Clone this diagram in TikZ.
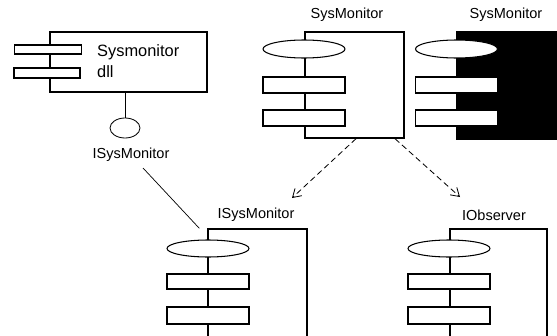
\documentclass[tikz,border=0pt]{standalone}
\usepackage{fontspec}
\setmainfont{Liberation Sans}
\usetikzlibrary{arrows.meta,shapes.geometric}

\tikzset{
  compbox/.style={draw, line width=1.2pt, fill=white, inner sep=0pt},
  bar/.style={draw, line width=0.9pt, fill=white, inner sep=0pt,
              minimum width=2.46cm, minimum height=0.48cm},
  port/.style={ellipse, draw, line width=0.9pt, fill=white, inner sep=0pt,
               minimum width=2.46cm, minimum height=0.54cm},
  title/.style={font=\fontsize{12.4}{14}\selectfont, inner sep=0pt},
  depends/.style={dash pattern=on 5pt off 3pt, line width=0.7pt,
                  -{Straight Barb[length=2.4mm,width=3mm]}}
}

\begin{document}
\begin{tikzpicture}[x=0.03cm, y=-0.03cm]

      \clip (0,0) rectangle (557,336);

      % dll component with its interface
      \node[compbox, minimum width=4.71cm, minimum height=1.8cm] (dll) at (128.5,62) {};
      \node[bar, minimum width=2.01cm, minimum height=0.27cm] (dllbar1) at (48,49.5) {};
      \node[bar, minimum width=1.98cm, minimum height=0.3cm] (dllbar2) at (47,73) {};
      \node[anchor=west, inner sep=0pt, font=\fontsize{14}{16}\selectfont] (dllname) at (97,52) {Sysmonitor};
      \node[anchor=west, inner sep=0pt, font=\fontsize{14}{16}\selectfont] (dllext) at (97,72) {dll};
      \node[ellipse, draw, line width=0.7pt, minimum width=0.9cm, minimum height=0.6cm,
            inner sep=0pt] (lolli) at (125,128) {};
      \node[title] (iface) at (131,155) {ISysMonitor};

      % SysMonitor, white and black
      \node[compbox, minimum width=2.97cm, minimum height=3.18cm] (sysmon) at (354.5,85) {};
      \node[port] (sysport) at (304,49) {};
      \node[bar] (sysbar1) at (304,85) {};
      \node[bar] (sysbar2) at (304,118) {};
      \node[title] (syslbl) at (347,15) {SysMonitor};

      \node[compbox, fill=black, minimum width=3.09cm, minimum height=3.21cm] (sysblk) at (508.5,85.5) {};
      \node[port] (blkport) at (456.5,49) {};
      \node[bar] (blkbar1) at (456.5,85) {};
      \node[bar] (blkbar2) at (456.5,118) {};
      \node[title] (blklbl) at (506,15) {SysMonitor};

      % interfaces
      \node[compbox, minimum width=2.97cm, minimum height=3.48cm] (isys) at (257.5,287) {};
      \node[port, minimum height=0.51cm] (isysport) at (208,248.5) {};
      \node[bar, minimum height=0.45cm] (isysbar1) at (208,281.5) {};
      \node[bar, minimum height=0.51cm] (isysbar2) at (208,315.5) {};
      \node[title] (isyslbl) at (256,215) {ISysMonitor};

      \node[compbox, minimum width=2.91cm, minimum height=3.48cm] (iobs) at (498.5,287) {};
      \node[port, minimum height=0.51cm] (iobsport) at (449,248.5) {};
      \node[bar, minimum height=0.45cm] (iobsbar1) at (449,281.5) {};
      \node[bar, minimum height=0.51cm] (iobsbar2) at (449,315.5) {};
      \node[title] (iobslbl) at (494,215) {IObserver};

      \coordinate (isystip) at (292,198);
      \coordinate (iobstip) at (460,197);
      \coordinate (ifacefoot) at (143,168);

      \draw[line width=0.7pt] (dll.south -| lolli) -- (lolli);
      \draw[line width=0.6pt] (ifacefoot) -- ([xshift=-0.24cm]isys.north west);
      \draw[depends] ([xshift=0.045cm]sysmon.south) -- (isystip);
      \draw[depends] ([xshift=1.215cm]sysmon.south) -- (iobstip);

    \end{tikzpicture}
\end{document}
